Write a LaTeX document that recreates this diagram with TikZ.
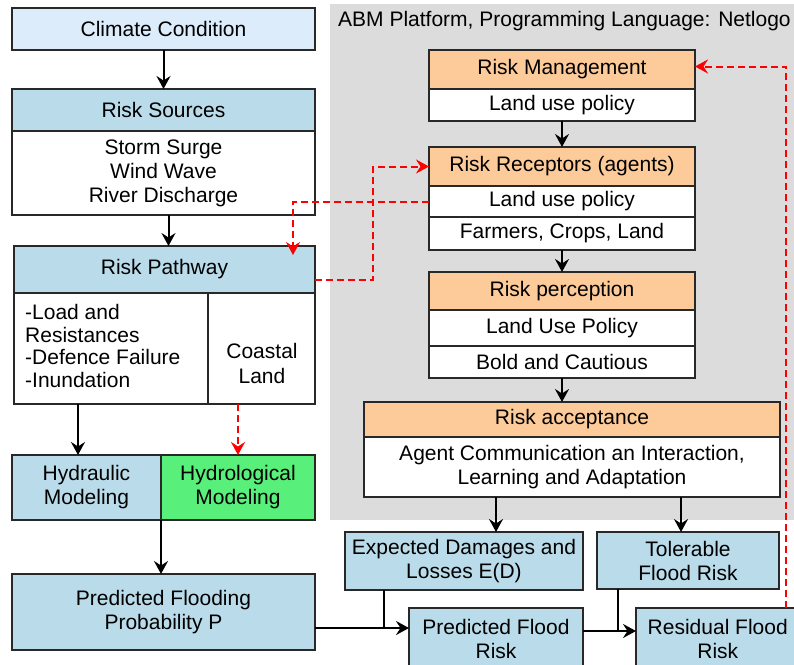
\documentclass[tikz,border=0pt]{standalone}
\usepackage{fontspec}
\setmainfont{Liberation Sans}
\usetikzlibrary{arrows.meta,calc}
\definecolor{ccblue}{RGB}{220,236,250}
\definecolor{hdrblue}{RGB}{186,220,234}
\definecolor{orangeh}{RGB}{252,203,153}
\definecolor{greenh}{RGB}{88,240,122}
\definecolor{panelgray}{RGB}{220,220,220}
\definecolor{bordc}{RGB}{40,40,40}
\begin{document}
\begin{tikzpicture}[x=1pt,y=-1pt,
  box/.style={draw=bordc,line width=1.2pt,inner sep=0pt,outer sep=0pt,anchor=north west,align=center,
    font=\fontsize{21}{24}\selectfont},
  arr/.style={-{Stealth[length=13pt,width=14pt,inset=4.5pt]},line width=2pt,black},
  plain/.style={line width=2pt,black},
  rarr/.style={-{Stealth[length=13pt,width=14pt,inset=4.5pt]},line width=2pt,red,dash pattern=on 7pt off 4pt},
  txt/.style={inner sep=0pt,font=\fontsize{21}{24}\selectfont}]
\useasboundingbox (0,0) rectangle (794,664);
\clip (0,0) rectangle (794,664);
\fill[white] (0,0) rectangle (794,664);
% ABM panel
\node[anchor=north west,fill=panelgray,inner sep=0pt,minimum width=464pt,minimum height=516pt] (panel) at (330,4) {};
\node[txt,anchor=west] (ptitle) at (338,21) {ABM Platform, Programming Language: Netlogo};
% left column
\node[box,fill=ccblue,minimum width=303pt,minimum height=42pt] (cc) at (12,8) {Climate Condition};
\node[box,fill=hdrblue,minimum width=303pt,minimum height=42pt] (rs) at (12,89) {Risk Sources};
\node[box,fill=white,minimum width=303pt,minimum height=84pt] (rsb) at (12,131) {Storm Surge\\Wind Wave\\River Discharge};
\node[box,fill=hdrblue,minimum width=301pt,minimum height=47pt] (rp) at (14,246) {Risk Pathway};
\node[box,fill=white,minimum width=194pt,minimum height=111pt] (rpl) at (14,293) {};
\node[box,fill=white,minimum width=107pt,minimum height=111pt] (rpr) at (208,293) {};
\node[txt,align=center,font=\fontsize{21}{25}\selectfont] (rprtxt) at (262,363) {Coastal\\Land};
\node[txt,anchor=north west,align=left,font=\fontsize{21}{22.6}\selectfont] (rpltxt) at (25,304) {-Load and\\Resistances\\-Defence Failure\\-Inundation};
\node[box,fill=hdrblue,minimum width=149pt,minimum height=65pt] (hyd) at (12,455) {Hydraulic\\Modeling};
\node[box,fill=greenh,minimum width=154pt,minimum height=65pt] (hydro) at (161,455) {Hydrological\\Modeling};
\node[box,fill=hdrblue,minimum width=303pt,minimum height=76pt] (pfp) at (12,574) {Predicted Flooding\\Probability P};
% ABM boxes
\node[box,fill=orangeh,minimum width=266pt,minimum height=39pt] (rm) at (429,50) {Risk Management};
\node[box,fill=white,minimum width=266pt,minimum height=32pt] (rmb) at (429,89) {Land use policy};
\node[box,fill=orangeh,minimum width=266pt,minimum height=39pt] (rr) at (429,147) {Risk Receptors (agents)};
\node[box,fill=white,minimum width=266pt,minimum height=31pt] (rrb1) at (429,186) {Land use policy};
\node[box,fill=white,minimum width=266pt,minimum height=33pt] (rrb2) at (429,217) {Farmers, Crops, Land};
\node[box,fill=orangeh,minimum width=266pt,minimum height=38pt] (rpc) at (429,272) {Risk perception};
\node[box,fill=white,minimum width=266pt,minimum height=36pt] (rpcb1) at (429,310) {Land Use Policy};
\node[box,fill=white,minimum width=266pt,minimum height=32pt] (rpcb2) at (429,346) {Bold and Cautious};
\node[box,fill=orangeh,minimum width=416pt,minimum height=35pt] (ra) at (364,402) {Risk acceptance};
\node[box,fill=white,minimum width=416pt,minimum height=60pt] (rab) at (364,437) {Agent Communication an Interaction,\\Learning and Adaptation};
% bottom boxes
\node[box,fill=hdrblue,minimum width=238pt,minimum height=58pt] (ed) at (345,532) {Expected Damages and\\Losses E(D)};
\node[box,fill=hdrblue,minimum width=182pt,minimum height=57pt] (tol) at (597,532) {Tolerable\\Flood Risk};
\node[box,fill=hdrblue,minimum width=174pt,minimum height=62pt] (pfr) at (409,608) {Predicted Flood\\Risk};
\node[box,fill=hdrblue,minimum width=174pt,minimum height=62pt] (res) at (636,608) {Residual Flood\hphantom{x}\\Risk\hphantom{x}};
% black connectors
\draw[arr] (cc.south) -- (rs.north);
\draw[arr] ([xshift=5pt]rsb.south) -- ([xshift=5pt]rsb.south |- rp.north);
\draw[arr] ([xshift=64pt]rpl.south west) -- ([xshift=64pt]rpl.south west |- hyd.north);
\draw[arr] (hyd.south east) -- (hyd.south east |- pfp.north);
\draw[arr] (rmb.south) -- (rr.north);
\draw[arr] (rrb2.south) -- (rpc.north);
\draw[arr] (rpcb2.south) -- (rpcb2.south |- ra.north);
\draw[arr] ([xshift=132pt]rab.south west) -- ([xshift=132pt]rab.south west |- ed.north);
\draw[arr] ([xshift=317pt]rab.south west) -- ([xshift=317pt]rab.south west |- tol.north);
\coordinate (m1) at ([yshift=-16pt]pfp.east -| pfr.west);
\draw[arr] ([yshift=-16pt]pfp.east) -- (m1);
\draw[plain] ([xshift=39pt]ed.south west) -- ([xshift=39pt]ed.south west |- m1);
\coordinate (m2) at ([yshift=-19pt]pfp.east -| res.west);
\coordinate (m2s) at ([yshift=-19pt]pfp.east -| pfr.east);
\draw[arr] (m2s) -- (m2);
\draw[plain] ([xshift=21pt]tol.south west) -- ([xshift=21pt]tol.south west |- m2);
% red dashed connectors
\draw[rarr] (hydro.north |- rpr.south) -- (hydro.north);
\draw[rarr] ([yshift=-10pt]rp.east) -- ++(58,0) |- (rr.west);
\draw[rarr] (rrb1.west) -| ([xshift=-22pt,yshift=-9pt]rp.north east);
\draw[rarr] ([xshift=150pt]res.north west) |- ([yshift=3pt]rm.east);
\end{tikzpicture}
\end{document}
